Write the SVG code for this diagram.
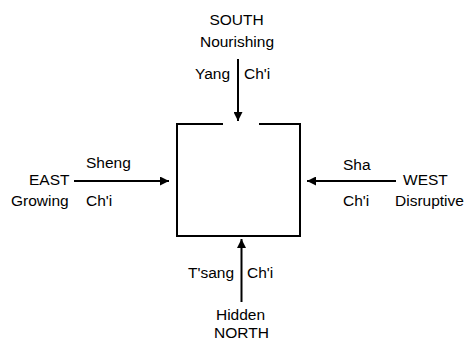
<svg xmlns="http://www.w3.org/2000/svg" width="468" height="340" viewBox="0 0 468 340">
  <style>
    text { font-family: "Liberation Sans", Arial, sans-serif; font-size: 15.5px; fill: #000; }
    .mid { text-anchor: middle; }
    .ln { stroke: #000; stroke-width: 2; fill: none; }
  </style>
  <defs>
    <marker id="ah" viewBox="0 0 10 10" refX="10" refY="5" markerWidth="4.5" markerHeight="4.5" orient="auto" markerUnits="strokeWidth">
      <path d="M0,0 L10,5 L0,10 Z" fill="#000"/>
    </marker>
  </defs>
  <rect width="468" height="340" fill="#fff"/>

  <g id="center-box">
    <path class="ln" d="M223,124 H177 V236 H300 V124 H259"/>
  </g>

  <g id="connectors">
    <line class="ln" x1="238" y1="59" x2="238" y2="121" marker-end="url(#ah)"/>
    <line class="ln" x1="241.5" y1="302" x2="241.5" y2="239" marker-end="url(#ah)"/>
    <line class="ln" x1="74" y1="181" x2="169" y2="181" marker-end="url(#ah)"/>
    <line class="ln" x1="396" y1="181" x2="307" y2="181" marker-end="url(#ah)"/>
  </g>

  <g id="south">
    <text class="mid" x="236.5" y="25">SOUTH</text>
    <text class="mid" x="237" y="47">Nourishing</text>
    <text x="195" y="79">Yang</text>
    <text x="244" y="79">Ch'i</text>
  </g>

  <g id="east">
    <text x="86" y="168">Sheng</text>
    <text x="29" y="185">EAST</text>
    <text x="11" y="206">Growing</text>
    <text x="86" y="206">Ch'i</text>
  </g>

  <g id="west">
    <text x="343" y="170">Sha</text>
    <text x="403" y="185">WEST</text>
    <text x="343" y="206">Ch'i</text>
    <text x="395" y="206">Disruptive</text>
  </g>

  <g id="north">
    <text x="188" y="278">T'sang</text>
    <text x="247" y="278">Ch'i</text>
    <text class="mid" x="240.5" y="320">Hidden</text>
    <text class="mid" x="241.5" y="338">NORTH</text>
  </g>
</svg>
